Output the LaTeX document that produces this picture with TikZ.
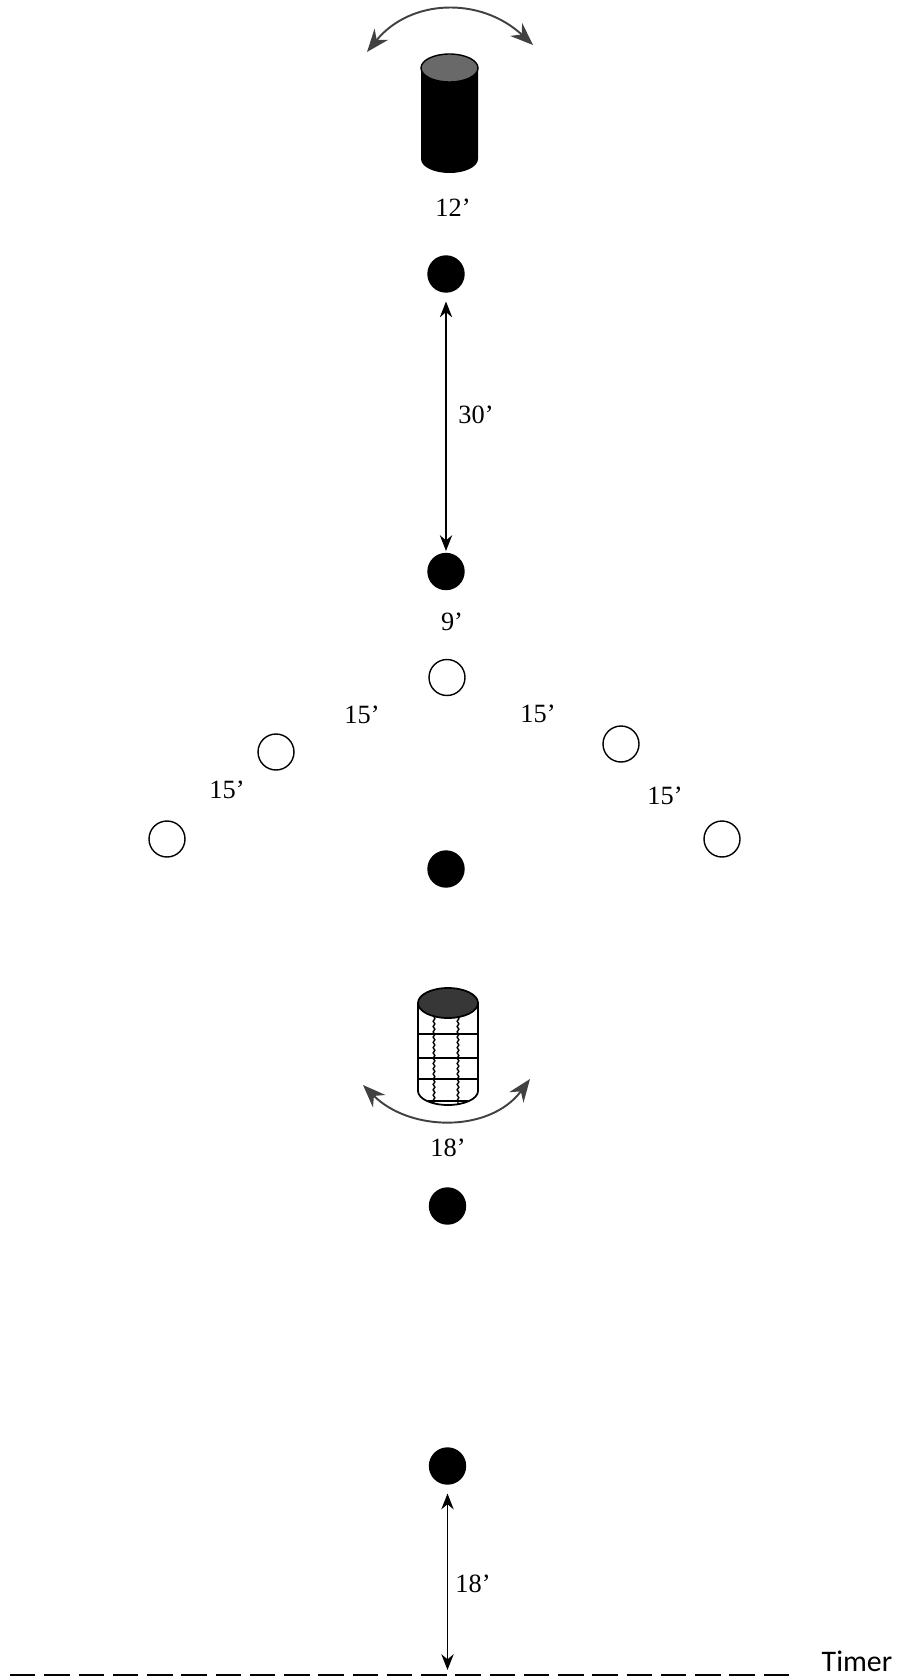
\documentclass[tikz,border=0pt]{standalone}
\usepackage{fontspec}
\setmainfont{Liberation Serif}
\newfontfamily\timerfont{Carlito}
\usetikzlibrary{arrows.meta,decorations.pathmorphing}
\definecolor{lidgray}{RGB}{105,105,105}
\definecolor{liddark}{RGB}{55,55,55}
\definecolor{swinggray}{RGB}{65,65,65}
\tikzset{
  spot/.style={circle,draw=black,fill=black,line width=0.8pt,minimum size=0.72cm,inner sep=0pt},
  openspot/.style={spot,fill=white},
  dimlabel/.style={font=\fontsize{15}{18}\selectfont,inner sep=0pt},
  dimarrow/.style={{Stealth[length=9pt,width=7pt]}-{Stealth[length=9pt,width=7pt]},line width=1.1pt},
  swingarrow/.style={{Stealth[length=13pt,width=10pt]}-{Stealth[length=13pt,width=10pt]},line width=1.1pt,swinggray},
}

\begin{document}
\begin{tikzpicture}[x=0.02cm,y=-0.02cm]
\useasboundingbox (0,0) rectangle (899,1679);
% solid cylinder at the top
\fill[black] (421,68) -- (421,159) arc[start angle=180,end angle=360,x radius=28.5,y radius=-14] -- (478,68) -- cycle;
\draw[black,line width=0.8pt,fill=lidgray] (449.5,68) ellipse[x radius=28.5,y radius=14];
\coordinate (swingAleft) at (367,52);
\coordinate (swingAright) at (533,45);
\draw[swingarrow] (swingAleft) .. controls (410,-1) and (480,-4) .. (swingAright);
% netted cylinder
\draw[line width=1pt,fill=white] (418,1003) -- (418,1091) arc[start angle=180,end angle=360,x radius=30,y radius=-14] -- (478,1003);
\foreach \y in {1034,1058,1079}{ \draw[line width=0.9pt] (418,\y) -- (478,\y); }
\foreach \x in {434,458}{ \draw[line width=0.8pt,decorate,decoration={snake,amplitude=0.5pt,segment length=3pt}] (\x,1017) -- (\x,1104); }
\draw[line width=0.7pt] (428,1101) -- (468,1101);
\draw[line width=1pt,fill=liddark] (448,1003) ellipse[x radius=30,y radius=15];
\coordinate (swingBleft) at (363,1085);
\coordinate (swingBright) at (530,1079);
\draw[swingarrow] (swingBleft) .. controls (410,1132) and (490,1133) .. (swingBright);
% spots
\node[spot] (spotA) at (446,274) {};
\node[spot] (spotB) at (446,571.5) {};
\node[spot] (spotC) at (446,869) {};
\node[spot] (spotD) at (447.5,1206) {};
\node[spot] (spotE) at (447.5,1466) {};
\node[openspot] (coneM) at (447,677.5) {};
\node[openspot] (coneLa) at (276,752) {};
\node[openspot] (coneLb) at (167,839) {};
\node[openspot] (coneRa) at (621,744) {};
\node[openspot] (coneRb) at (722,839) {};
% timer line
\draw[line width=1pt,dash pattern=on 14.5pt off 5pt] (10,1675) -- (790,1675);
\coordinate (timerEnd) at (447.5,1670);
\node[font=\timerfont\fontsize{17}{20}\selectfont,inner sep=0pt] (timerLabel) at (857,1661) {Timer};
% measures
\draw[dimarrow,shorten <=5pt,shorten >=1pt] (spotA) -- (spotB);
\draw[dimarrow,shorten <=5pt] (spotE) -- (timerEnd);
\node[dimlabel] (labelA) at (453,208) {12’};
\node[dimlabel] (labelB) at (476,415) {30’};
\node[dimlabel] (labelC) at (452,622) {9’};
\node[dimlabel] (labelD) at (362,715) {15’};
\node[dimlabel] (labelE) at (538,714) {15’};
\node[dimlabel] (labelF) at (227,790) {15’};
\node[dimlabel] (labelG) at (665,796) {15’};
\node[dimlabel] (labelH) at (448,1148) {18’};
\node[dimlabel] (labelI) at (473,1584) {18’};
\end{tikzpicture}
\end{document}
